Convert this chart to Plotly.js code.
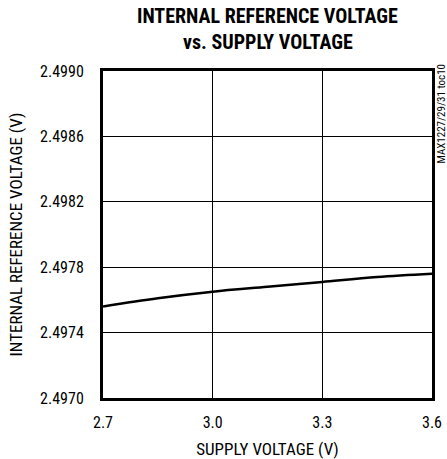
<!DOCTYPE html>
<html><head><meta charset="utf-8">
<script src="https://cdn.plot.ly/plotly-3.0.1.min.js"></script>
<style>body{margin:0;padding:0;background:#fff}#c{width:447px;height:459px}</style>
</head><body><div id="c"></div>
<script>
const supplyVoltage = [2.7, 2.85, 3.0, 3.15, 3.3, 3.45, 3.6];
const refVoltage = [2.49756, 2.49761, 2.49765, 2.49768, 2.49771, 2.49774, 2.49776];
const xTicks = [2.7, 3.0, 3.3, 3.6];
const xTickLabels = ['2.7', '3.0', '3.3', '3.6'];
const yTicks = [2.4970, 2.4974, 2.4978, 2.4982, 2.4986, 2.4990];
const yTickLabels = ['2.4970', '2.4974', '2.4978', '2.4982', '2.4986', '2.4990'];
const titleLines = ['INTERNAL REFERENCE VOLTAGE', 'vs. SUPPLY VOLTAGE'];

const narrow = '"Liberation Sans Narrow", "Arial Narrow", "Roboto Condensed", sans-serif';

Plotly.newPlot('c', [{
  x: supplyVoltage, y: refVoltage, type: 'scatter', mode: 'lines',
  line: {color: '#000', width: 2.5, shape: 'spline'}, hoverinfo: 'none'
}], {
  width: 447, height: 459,
  margin: {l: 103, r: 15, t: 71, b: 61},
  paper_bgcolor: '#fff', plot_bgcolor: '#fff',
  showlegend: false,
  xaxis: {range: [2.7, 3.6], tickvals: xTicks, ticktext: xTickLabels, showgrid: true,
    gridcolor: '#000', gridwidth: 1, zeroline: false, showline: true, linecolor: '#000', linewidth: 3,
    mirror: true, ticks: '', ticklabelstandoff: 8, tickfont: {family: narrow, size: 16, color: '#000'},
    title: {text: 'SUPPLY VOLTAGE (V)', font: {family: narrow, size: 17, color: '#000'}, standoff: 12}},
  yaxis: {range: [2.4970, 2.4990], tickvals: yTicks, ticktext: yTickLabels, showgrid: true,
    gridcolor: '#000', gridwidth: 1, zeroline: false, showline: true, linecolor: '#000', linewidth: 3,
    mirror: true, ticks: '', ticklabelstandoff: 13, tickfont: {family: narrow, size: 16, color: '#000'},
    title: {text: 'INTERNAL REFERENCE VOLTAGE (V)', font: {family: narrow, size: 17, color: '#000'}, standoff: 14}},
  annotations: [
    {text: '<b>' + titleLines[0] + '</b>', xref: 'paper', yref: 'paper', x: 0.5, y: 1.168,
      xanchor: 'center', yanchor: 'middle', showarrow: false,
      font: {family: narrow, size: 20, color: '#000'}},
    {text: '<b>' + titleLines[1] + '</b>', xref: 'paper', yref: 'paper', x: 0.5, y: 1.0887,
      xanchor: 'center', yanchor: 'middle', showarrow: false,
      font: {family: narrow, size: 20, color: '#000'}},
    {text: 'MAX1227/29/31 toc10', xref: 'paper', yref: 'paper', x: 1.0, y: 1.0,
    xanchor: 'left', yanchor: 'top', xshift: 0, yshift: 9, textangle: -90, showarrow: false,
    font: {family: narrow, size: 11, color: '#000'}}]
}, {displayModeBar: false, staticPlot: true});
</script></body></html>
